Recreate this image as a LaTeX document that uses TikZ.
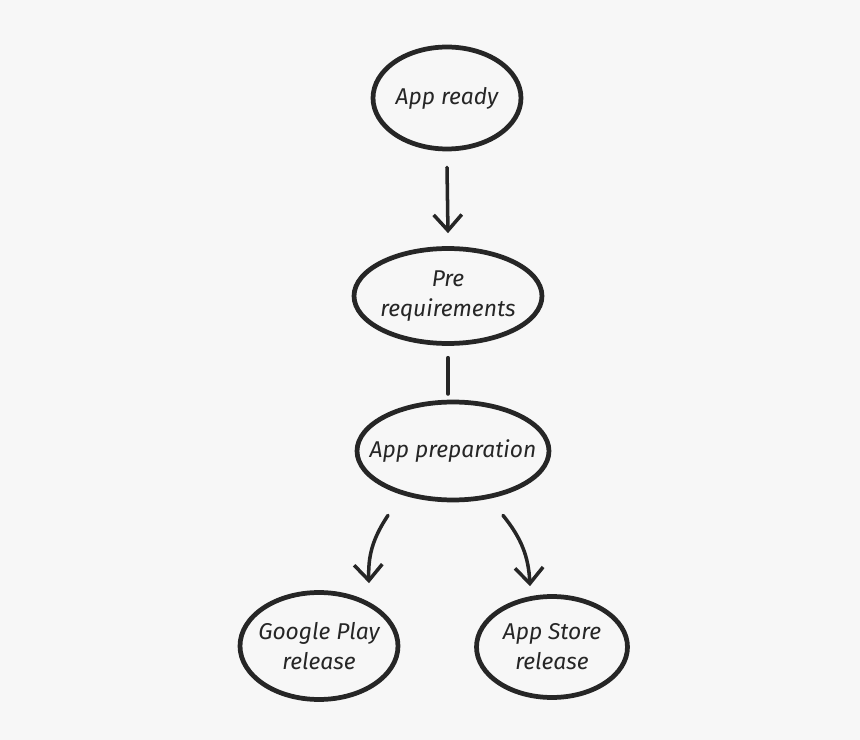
\documentclass[tikz,border=0pt]{standalone}
\usepackage{fontspec}
\setmainfont{Fira Sans}
\usepackage{tikz}
\usetikzlibrary{positioning, arrows.meta, shapes.geometric}
\definecolor{paperGrey}{HTML}{F7F7F7}
\definecolor{inkDark}{HTML}{262626}

\begin{document}
\begin{tikzpicture}[x=0.02cm, y=-0.02cm,
    font=\fontsize{13}{17}\selectfont\itshape,
    bubble/.style={ellipse, draw=inkDark, line width=2.7pt, text=inkDark,
      inner xsep=-12pt, inner ysep=-4pt, align=center},
    arr/.style={-{Straight Barb[length=9pt, width=16pt, line width=2pt]},
      line width=2pt, draw=inkDark, line cap=round},
    link/.style={line width=2.2pt, draw=inkDark, line cap=round}]
    \fill[paperGrey] (0,0) rectangle (860,740);
    \useasboundingbox (0,0) rectangle (860,740);
    \node[bubble, minimum width=2.96cm, minimum height=2.04cm] at (447,98) (ready) {App ready};
    \node[bubble, minimum width=3.76cm, minimum height=1.9cm] at (448,296) (prereq) {Pre\\requirements};
    \node[bubble, minimum width=3.84cm, minimum height=1.96cm] at (453,451) (prep) {App preparation};
    \node[bubble, minimum width=3.16cm, minimum height=2.14cm] at (319,646) (gplay) {Google Play\\release};
    \node[bubble, minimum width=3.02cm, minimum height=2.02cm] at (552,647) (astore) {App Store\\release};
    \draw[arr] ([yshift=-0.32cm]ready.south) -- ([yshift=0.26cm]prereq.north);
    \draw[link] ([yshift=-0.24cm]prereq.south) -- ([yshift=-0.96cm]prereq.south);
    \draw[arr, bend right=18] ([xshift=-1.3cm, yshift=-0.26cm]prep.south) to ([xshift=1.0cm, yshift=0.14cm]gplay.north);
    \draw[arr, bend left=18] ([xshift=1.0cm, yshift=-0.26cm]prep.south) to ([xshift=-0.44cm, yshift=0.16cm]astore.north);
  \end{tikzpicture}
\end{document}
